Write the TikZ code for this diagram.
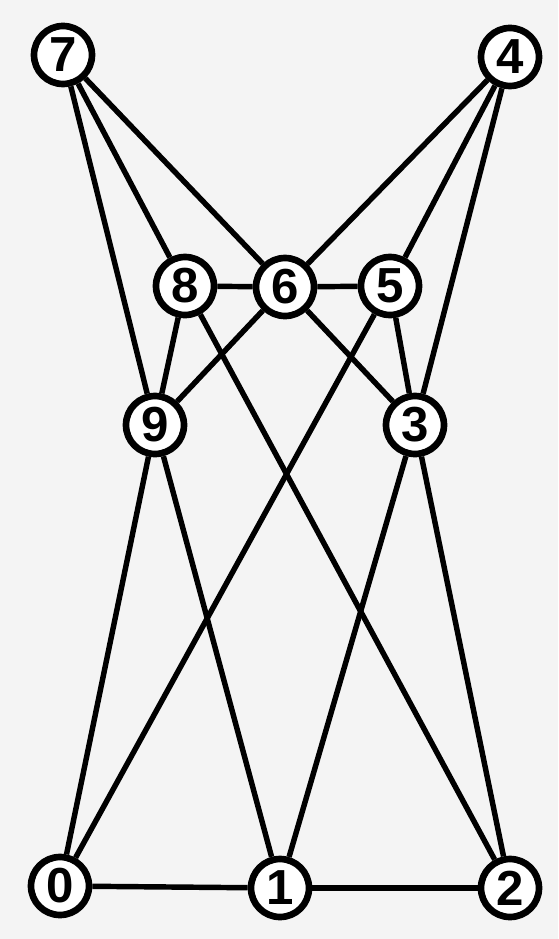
\documentclass[tikz,border=0pt]{standalone}
\usepackage{fontspec}
\setmainfont{Liberation Sans}
\usepackage{tikz}
\usetikzlibrary{calc}
\usepackage{xcolor}
\definecolor{paper}{HTML}{F4F4F4}

\begin{document}
\begin{tikzpicture}[x=0.02cm,y=-0.02cm,
  vtx/.style={circle,draw,line width=3.8pt,fill=white,minimum size=1.16cm,inner sep=0pt,
    font=\fontsize{28}{28}\selectfont\bfseries},
  edge/.style={line width=3.1pt}]
  % background
  \fill[paper] (0,0) rectangle (558,939);
  \useasboundingbox (0,0) rectangle (558,939);
  % top row
  \node[vtx] (n7) at (63,55) {7};
  \node[vtx] (n4) at (510,57) {4};
  % middle rows
  \node[vtx] (n8) at (185,286) {8};
  \node[vtx] (n6) at (285,287) {6};
  \node[vtx] (n5) at (390,286) {5};
  \node[vtx] (n9) at (155,425) {9};
  \node[vtx] (n3) at (415,425) {3};
  % bottom row
  \node[vtx] (n0) at (60,886) {0};
  \node[vtx] (n1) at (280,888) {1};
  \node[vtx] (n2) at (510,888) {2};
  % edges
  \foreach \a/\b in {n7/n9,n7/n8,n7/n6,n4/n6,n4/n5,n4/n3,
                     n8/n6,n6/n5,n8/n9,n9/n6,n8/n2,n6/n3,n5/n0,n5/n3,
                     n9/n0,n9/n1,n3/n1,n3/n2,n0/n1,n1/n2}
    \draw[edge] (\a) -- (\b);
\end{tikzpicture}
\end{document}
